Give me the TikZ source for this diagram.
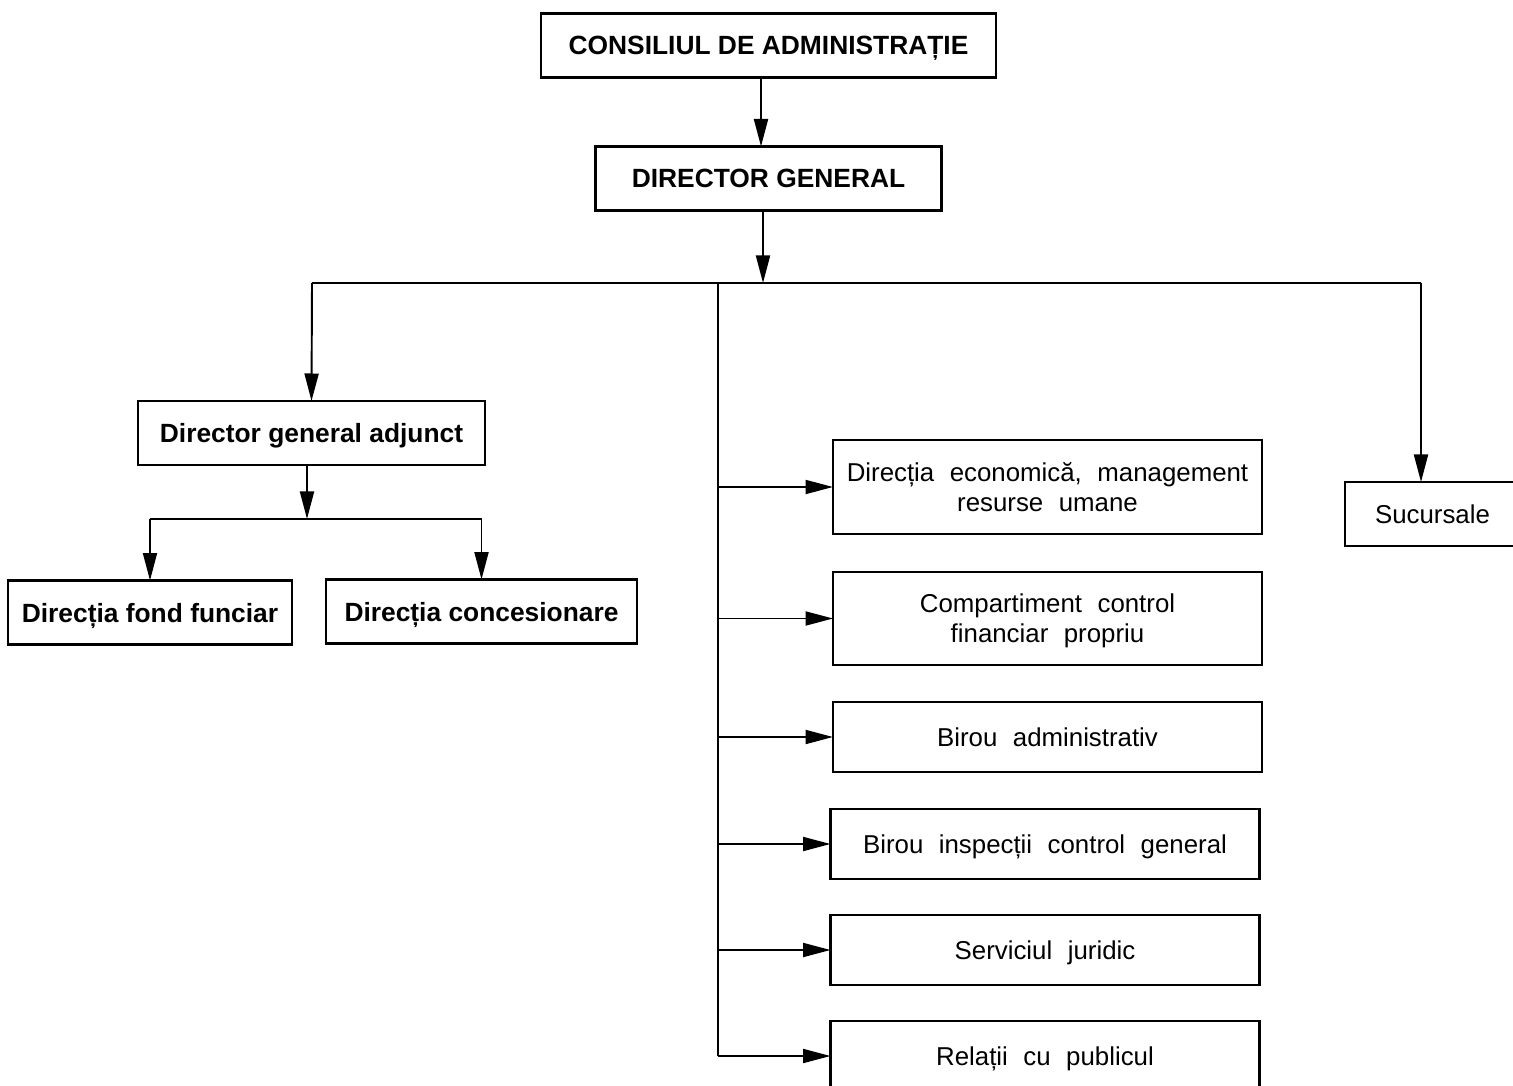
\documentclass[tikz,border=0pt]{standalone}
\usepackage{fontspec}
\setmainfont{Liberation Sans}
\usepackage{tikz}
\usetikzlibrary{arrows.meta, positioning, calc}
\definecolor{inkblack}{HTML}{000000}
\tikzstyle{headbox} = [rectangle, draw=inkblack, line width=1.2pt, outer sep=0pt, minimum height=1.28cm, text depth=0pt, text centered, font=\fontsize{15}{18}\selectfont\bfseries]
\tikzstyle{unitbox} = [rectangle, draw=inkblack, line width=1.2pt, outer sep=0pt, minimum width=8.58cm, minimum height=1.4cm, text depth=0pt, align=center, font={\fontsize{14.7}{17}\selectfont\spaceskip=0.6em\relax}]
\tikzstyle{arrow} = [line width=1.1pt, -{Triangle[length=0.55cm, width=0.28cm]}, color=inkblack]
\tikzstyle{wire} = [line width=1.1pt, color=inkblack]

\begin{document}
\begin{tikzpicture}[node distance=0.74cm]
    \useasboundingbox (0,0) rectangle (30.26,-21.72);
    % Nodes
    \node[headbox, minimum width=9.1cm] (consiliu) at (15.37,-0.91) {CONSILIUL DE ADMINISTRAȚIE};
    \node[headbox, minimum width=6.92cm, below=1.38cm of consiliu] (dirgen) {DIRECTOR GENERAL};
    \node[headbox, minimum width=6.94cm] (adjunct) at (6.23,-8.66) {Director general adjunct};
    \node[headbox, minimum width=5.68cm] (fond) at (3.0,-12.25) {Direcția fond funciar};
    \node[headbox, minimum width=6.22cm] (conces) at (9.63,-12.23) {Direcția concesionare};

    % Right column
    \node[unitbox, minimum height=1.88cm] (economic) at (20.95,-9.74) {Direcția economică, management\\resurse umane};
    \node[unitbox, minimum height=1.86cm, below=0.76cm of economic] (control) {Compartiment control\\financiar propriu};
    \node[unitbox, below=of control] (admin) {Birou administrativ};
    \node[unitbox, below=of admin, xshift=-0.05cm] (inspect) {Birou inspecții control general};
    \node[unitbox, below=0.72cm of inspect] (juridic) {Serviciul juridic};
    \node[unitbox, below=0.72cm of juridic] (relatii) {Relații cu publicul};
    \node[unitbox, minimum width=3.5cm, minimum height=1.28cm] (sucursale) at (28.65,-10.28) {Sucursale};

    % Junctions
    \coordinate (bus) at (15.26,-5.66);
    \coordinate (busleft) at (6.24,-5.66);
    \coordinate (busright) at (28.42,-5.66);
    \coordinate (trunk) at (14.36,-5.66);
    \coordinate (split) at (6.14,-10.38);

    % Arrows
    \draw[arrow] (15.22,0 |- consiliu.south) -- (15.22,0 |- dirgen.north);
    \draw[arrow] (bus |- dirgen.south) -- (bus);
    \draw[wire] (busleft) -- (busright);
    \draw[arrow] (busleft) -- (adjunct.north);
    \draw[arrow] (busright) -- (busright |- sucursale.north);
    \draw[arrow] (split |- adjunct.south) -- (split);
    \draw[wire] (fond.north |- split) -- (conces.north |- split);
    \draw[arrow] (fond.north |- split) -- (fond.north);
    \draw[arrow] (conces.north |- split) -- (conces.north);
    \draw[wire] (trunk) -- (trunk |- relatii.west);
    \foreach \unit in {economic, control, admin, inspect, juridic, relatii}
        \draw[arrow] (trunk |- \unit.west) -- (\unit.west);
\end{tikzpicture}
\end{document}
